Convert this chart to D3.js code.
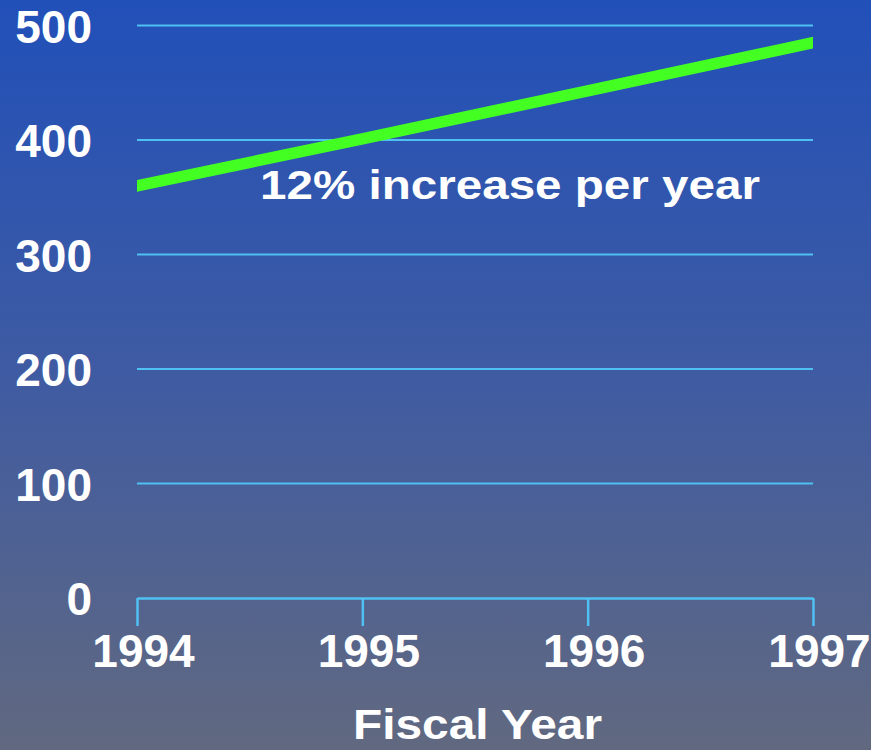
<!DOCTYPE html>
<html><head><meta charset="utf-8">
<script src="https://cdn.jsdelivr.net/npm/d3@7/dist/d3.min.js"></script>
<style>html,body{margin:0;padding:0;overflow:hidden;background:#3a5aa8}</style>
</head><body>
<script>
const years = [1994, 1995, 1996, 1997];
const values = [360, 401, 443, 485];
const yTicks = [0, 100, 200, 300, 400, 500];
const annotation = "12% increase per year";
const xTitle = "Fiscal Year";

const W = 871, H = 750;
const svg = d3.select("body").append("svg").attr("width", W).attr("height", H);
const defs = svg.append("defs");
const grad = defs.append("linearGradient").attr("id", "bg").attr("x1", 0).attr("y1", 0).attr("x2", 0).attr("y2", 1);
grad.append("stop").attr("offset", "0%").attr("stop-color", "#2150b9");
grad.append("stop").attr("offset", "50%").attr("stop-color", "#3f5ba2");
grad.append("stop").attr("offset", "100%").attr("stop-color", "#616980");
svg.append("rect").attr("width", W).attr("height", H).attr("fill", "url(#bg)");

const x = d3.scalePoint().domain(years).range([137, 813]);
const y = d3.scaleLinear().domain([0, 500]).range([598, 25.5]);
const font = "'Liberation Sans', Arial, Helvetica, sans-serif";

// gridlines
svg.append("g").selectAll("line").data(yTicks.filter(d => d > 0)).join("line")
  .attr("x1", 137).attr("x2", 813)
  .attr("y1", d => y(d)).attr("y2", d => y(d))
  .attr("stroke", "#4fc0f2").attr("stroke-width", 2);

// x axis
const xAxis = svg.append("g").attr("transform", `translate(0,${y(0)})`)
  .call(d3.axisBottom(x).tickSize(28).tickPadding(8).tickSizeOuter(0));
xAxis.select(".domain").attr("stroke", "#4fc0f2").attr("stroke-width", 2.5);
xAxis.selectAll(".tick line").attr("stroke", "#4fc0f2").attr("stroke-width", 2.5);
xAxis.selectAll(".tick text").attr("fill", "#fff").attr("font-family", font)
  .attr("font-weight", "bold").attr("font-size", 46).attr("dx", 6);

// y axis labels
const yAxis = svg.append("g").attr("transform", `translate(137,0)`)
  .call(d3.axisLeft(y).tickValues(yTicks).tickSize(0).tickPadding(45));
yAxis.select(".domain").remove();
yAxis.selectAll(".tick text").attr("fill", "#fff").attr("font-family", font)
  .attr("font-weight", "bold").attr("font-size", 46).attr("dy", "0.36em");

// line
defs.append("clipPath").attr("id", "clip").append("rect")
  .attr("x", x(1994)).attr("y", 0).attr("width", x(1997) - x(1994)).attr("height", H);
svg.append("path").datum(years.map((d, i) => [d, values[i]]))
  .attr("clip-path", "url(#clip)")
  .attr("d", d3.line().x(d => x(d[0])).y(d => y(d[1])))
  .attr("fill", "none").attr("stroke", "#44ff22").attr("stroke-width", 11.5).attr("stroke-linecap", "square");

svg.append("text").attr("x", 260).attr("y", 199).text(annotation)
  .attr("fill", "#fff").attr("font-family", font).attr("font-weight", "bold")
  .attr("font-size", 41).attr("textLength", 500).attr("lengthAdjust", "spacingAndGlyphs");

svg.append("text").attr("x", 353).attr("y", 739).text(xTitle)
  .attr("fill", "#fff").attr("font-family", font).attr("font-weight", "bold").attr("font-size", 43)
  .attr("textLength", 249).attr("lengthAdjust", "spacingAndGlyphs");
</script>
</body></html>
